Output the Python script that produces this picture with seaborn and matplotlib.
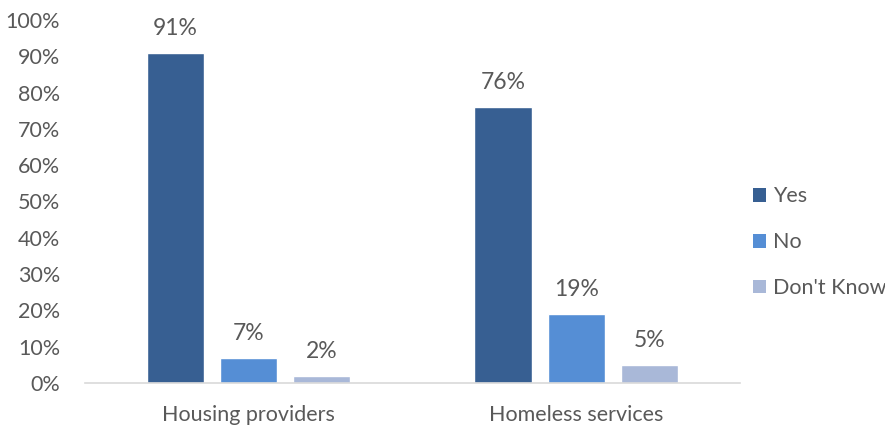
import matplotlib
matplotlib.use("Agg")
import matplotlib.pyplot as plt
import seaborn as sns
import pandas as pd
from matplotlib.patches import Patch

# Survey responses by organisation type
categories = ["Housing providers", "Homeless services"]
responses = ["Yes", "No", "Don't Know"]
yes_values = [91, 76]
no_values = [7, 19]
dont_know_values = [2, 5]
y_tick_labels = [f"{v}%" for v in range(0, 101, 10)]

colors = ["#375F92", "#558ED5", "#A9B8D8"]
text_color = "#595959"

sns.set_theme(style="white")
plt.rcParams["font.family"] = ["Lato", "DejaVu Sans"]

df = pd.DataFrame({
    "category": categories * 3,
    "response": [r for r in responses for _ in categories],
    "value": yes_values + no_values + dont_know_values,
})

fig = plt.figure(figsize=(8.85, 4.25), dpi=100)
ax = fig.add_axes([0.096, 0.099, 0.740, 0.854])

sns.barplot(data=df, x="category", y="value", hue="response",
            hue_order=responses, order=categories, palette=colors,
            width=0.67, gap=0.22, saturation=1, ax=ax, legend=False)

for container in ax.containers:
    ax.bar_label(container, labels=[f"{v:.0f}%" for v in container.datavalues],
                 padding=10, fontsize=16.5, color=text_color)

ax.set_ylim(0, 100)
ax.set_yticks(range(0, 101, 10))
ax.set_yticklabels(y_tick_labels)
ax.set_xlabel("")
ax.set_ylabel("")
ax.tick_params(axis="both", length=0, labelsize=15.5, colors=text_color)
ax.tick_params(axis="x", pad=16)
ax.tick_params(axis="y", pad=18)
for lbl in ax.get_yticklabels():
    lbl.set_horizontalalignment("right")

for side in ["top", "right", "left"]:
    ax.spines[side].set_visible(False)
ax.spines["bottom"].set_color("#D9D9D9")
ax.spines["bottom"].set_linewidth(1.2)
ax.set_xlim(-0.5, 1.5)

handles = [Patch(facecolor=c, edgecolor="none", label=r) for c, r in zip(colors, responses)]
fig.legend(handles=handles, loc="center left", bbox_to_anchor=(0.851, 0.43),
           frameon=False, fontsize=15.5, labelcolor=text_color,
           handlelength=0.62, handleheight=0.62, handletextpad=0.3,
           labelspacing=1.2, borderaxespad=0, borderpad=0)

fig.savefig("out.png", dpi=100, facecolor="white")
